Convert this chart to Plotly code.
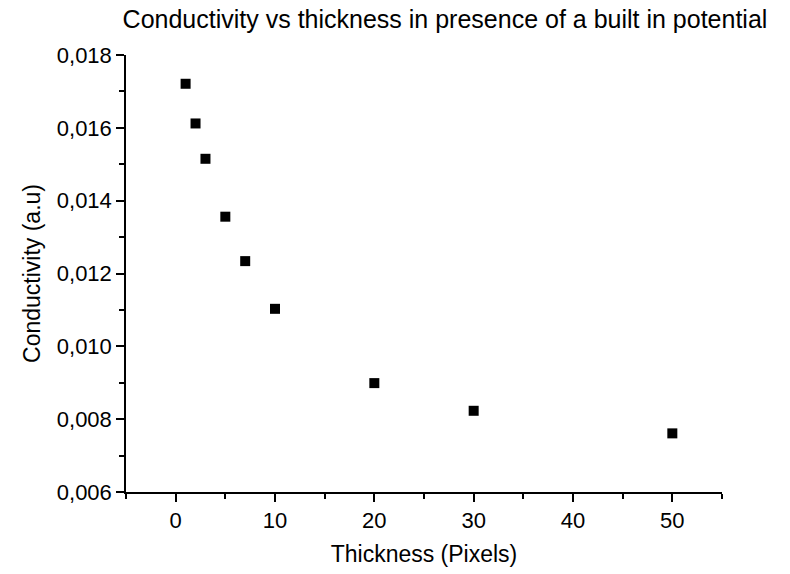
import plotly.graph_objects as go

thickness = [1, 2, 3, 5, 7, 10, 20, 30, 50]
conductivity = [0.01721, 0.01612, 0.01515, 0.01356, 0.01234, 0.01103, 0.00899, 0.00823, 0.00761]

title_text = "Conductivity vs thickness in presence of a built in potential"
x_title = "Thickness (Pixels)"
y_title = "Conductivity (a.u)"

fig = go.Figure()
fig.add_trace(go.Scatter(
    x=thickness, y=conductivity, mode="markers",
    marker=dict(symbol="square", size=10, color="black", line=dict(width=0)),
    showlegend=False,
))

font_family = "Liberation Sans, Arial, sans-serif"
fig.update_layout(
    width=790, height=574,
    margin=dict(l=126, r=68, t=55, b=82),
    paper_bgcolor="white", plot_bgcolor="white",
    separators=", ",
    font=dict(family=font_family, color="black", size=22),
    title=dict(text=title_text, x=445/790, xanchor="center", xref="container",
               y=1 - 19/574, yanchor="middle", yref="container",
               font=dict(size=25, family=font_family, color="black")),
)
fig.update_xaxes(
    range=[-5, 55], tickmode="array", tickvals=[0, 10, 20, 30, 40, 50],
    showgrid=False, zeroline=False, showline=True, linecolor="black", linewidth=1.5,
    ticks="outside", ticklen=8, tickwidth=1.5, tickcolor="black",
    minor=dict(tickmode="array", tickvals=[-5, 5, 15, 25, 35, 45, 55], ticks="outside", ticklen=5, tickwidth=1.5, tickcolor="black", showgrid=False),
    tickfont=dict(size=22),
    title=dict(text=x_title, font=dict(size=23), standoff=14),
)
fig.update_yaxes(
    range=[0.006, 0.018], tickmode="array",
    tickvals=[0.006, 0.008, 0.010, 0.012, 0.014, 0.016, 0.018], tickformat=".3f",
    showgrid=False, zeroline=False, showline=True, linecolor="black", linewidth=1.5,
    ticks="outside", ticklen=8, tickwidth=1.5, tickcolor="black",
    minor=dict(tickmode="array", tickvals=[0.007, 0.009, 0.011, 0.013, 0.015, 0.017], ticks="outside", ticklen=5, tickwidth=1.5, tickcolor="black", showgrid=False),
    tickfont=dict(size=22),
    title=dict(text=y_title, font=dict(size=23), standoff=10),
)

fig.write_html("out.html")
